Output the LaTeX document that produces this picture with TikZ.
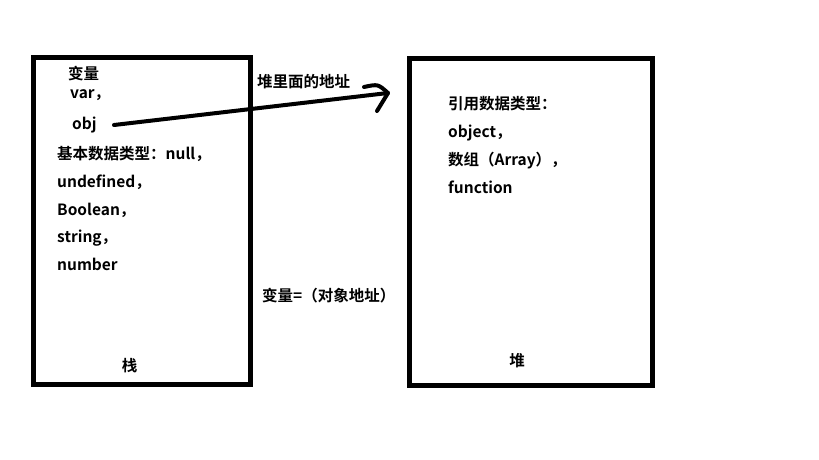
\documentclass[tikz,border=0pt]{standalone}
\usepackage{fontspec}
\setmainfont{Noto Sans CJK SC}[BoldFont={* Bold}]
\begin{document}
\begin{tikzpicture}[x=1pt,y=-1pt,
  box/.style={draw=black,line width=5pt,rectangle,inner sep=0pt},
  txt/.style={anchor=west,inner sep=0pt,font=\fontsize{15.5}{18}\selectfont\bfseries,text height=11pt,text depth=3pt},
  lbl/.style={anchor=center,inner sep=0pt,font=\fontsize{15.5}{18}\selectfont\bfseries},
  stroke/.style={line width=4pt,line cap=round,line join=round}]
\useasboundingbox[fill=white] (0,0) rectangle (819,460);
% boxes
\node[box,minimum width=217.5pt,minimum height=326pt] (stack) at (141.75,221) {};
\node[box,minimum width=243pt,minimum height=327pt] (heap) at (531,222) {};
% stack texts
\node[txt] (v1) at (68,75) {变量};
\node[txt] (v2) at (70,95) {var，};
\node[txt] (obj) at (72,125) {obj};
\node[txt] (b1) at (57,155) {基本数据类型：null，};
\node[txt] (b2) at (57,183) {undefined，};
\node[txt] (b3) at (57,211) {Boolean，};
\node[txt] (b4) at (57,238) {string，};
\node[txt] (b5) at (57,266) {number};
\node[lbl] (zhan) at (129.5,366) {栈};
% heap texts
\node[txt] (h1) at (448,105) {引用数据类型：};
\node[txt] (h2) at (448,133) {object，};
\node[txt] (h3) at (448,161) {数组（Array），};
\node[txt] (h4) at (448,189) {function};
\node[lbl] (dui) at (517,361) {堆};
% middle texts
\node[txt] (addr) at (257,84) {堆里面的地址};
\node[txt] (eq) at (262,297) {变量=（对象地址）};
% arrow
\coordinate (start) at (114,125);
\coordinate (tip) at (388,93);
\coordinate (barbA) at (364,87);
\coordinate (barbB) at (377,111);
\draw[stroke] (start) -- (tip);
\draw[stroke] (barbA) .. controls (378,84) .. (tip) -- (barbB);
\end{tikzpicture}
\end{document}
